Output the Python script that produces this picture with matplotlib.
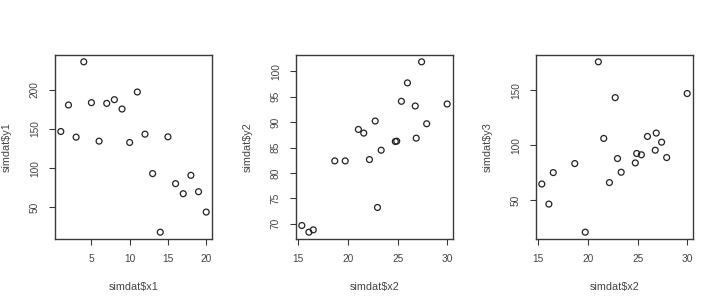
import matplotlib
matplotlib.use("Agg")
import matplotlib.pyplot as plt
import numpy as np

x1 = list(range(1, 21))
y1 = [146.7, 180.4, 139.5, 235.4, 183.4, 134.4, 182.5, 187.2, 175.3, 132.7,
      197.0, 143.3, 93.1, 18.5, 139.9, 80.3, 67.5, 90.9, 70.0, 44.1]
x2 = [15.37, 16.08, 16.52, 18.68, 19.73, 21.05, 21.59, 22.16, 22.74, 22.97,
      23.34, 24.76, 24.90, 25.37, 25.98, 26.76, 26.86, 27.40, 27.91, 29.97]
y2 = [69.67, 68.36, 68.82, 82.37, 82.37, 88.55, 87.83, 82.63, 90.20, 73.22,
      84.47, 86.18, 86.25, 94.08, 97.70, 93.16, 86.84, 101.84, 89.67, 93.55]
y3 = [64.6, 46.3, 75.0, 83.2, 20.7, 175.9, 106.1, 65.9, 143.3, 87.8,
      75.3, 83.8, 92.4, 91.2, 107.9, 95.4, 111.0, 102.7, 88.7, 147.0]

panels = [
    (x1, y1, "simdat$x1", "simdat$y1", [5, 10, 15, 20], [50, 100, 150, 200]),
    (x2, y2, "simdat$x2", "simdat$y2", [15, 20, 25, 30], [70, 75, 80, 85, 90, 95, 100]),
    (x2, y3, "simdat$x2", "simdat$y3", [15, 20, 25, 30], [50, 100, 150]),
]

plt.rcParams['font.family'] = ['Liberation Sans', 'DejaVu Sans']
fig = plt.figure(figsize=(7.2, 3.08), dpi=100)
W, H = 720, 308
lefts = [55, 296, 536]
aw = 157
top, bottom = 55, 239
col = "#3a3a3a"
tcol = "#444444"

for (xs, ys, xl, yl, xt, yt), L in zip(panels, lefts):
    ax = fig.add_axes([L / W, (H - bottom) / H, aw / W, (bottom - top) / H])
    ax.scatter(xs, ys, s=18, facecolors='none', edgecolors='#222222', linewidths=0.9)
    xmin, xmax = min(xs), max(xs)
    ymin, ymax = min(ys), max(ys)
    dx, dy = 0.04 * (xmax - xmin), 0.04 * (ymax - ymin)
    ax.set_xlim(xmin - dx, xmax + dx)
    ax.set_ylim(ymin - dy, ymax + dy)
    ax.set_xticks(xt)
    ax.set_yticks(yt)
    for s in ax.spines.values():
        s.set_color(col)
        s.set_linewidth(1.0)
    ax.tick_params(axis='both', direction='out', length=4.1, width=0.8,
                   color=col, labelsize=7.3, labelcolor=tcol, pad=6.8)
    ax.tick_params(axis='y', labelrotation=90)
    for lab in ax.get_yticklabels():
        lab.set_va('center')
    ax.set_xlabel(xl, fontsize=7.8, color=tcol)
    ax.set_ylabel(yl, fontsize=7.8, color=tcol)
    ax.xaxis.set_label_coords(0.5, (bottom - 287) / (bottom - top))
    ax.xaxis.label.set_va('center')
    ax.yaxis.set_label_coords(-48 / aw, 0.5)
    ax.yaxis.label.set_va('center')

fig.savefig("out.png", dpi=100)
